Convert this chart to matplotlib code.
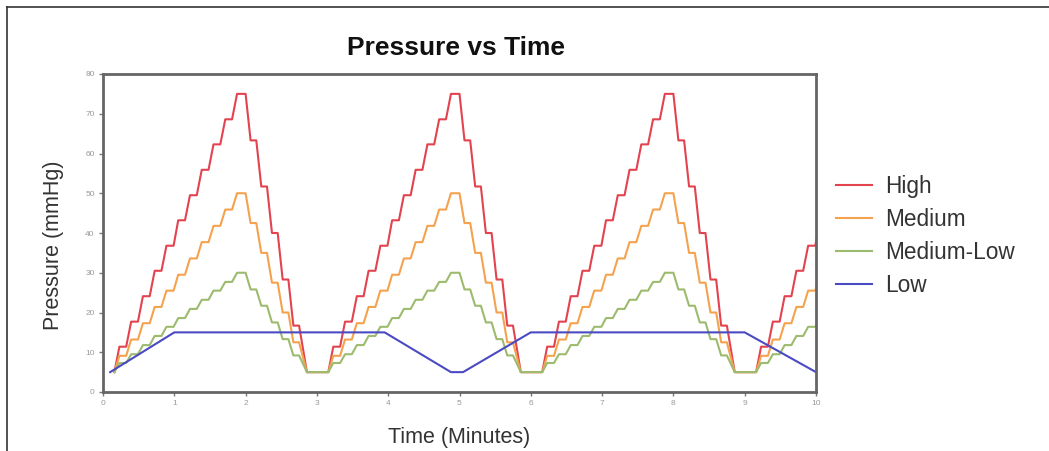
import matplotlib
matplotlib.use("Agg")
import matplotlib.pyplot as plt
import numpy as np
from matplotlib.lines import Line2D

plt.rcParams["font.family"] = ["Liberation Sans", "DejaVu Sans"]

# one pump cycle (minutes from cycle start), shared by the stepped series
step_times = [0.16, 0.23, 0.325, 0.395, 0.49, 0.56, 0.655, 0.725, 0.82, 0.89, 0.99,
              1.055, 1.15, 1.22, 1.315, 1.385, 1.48, 1.55, 1.645, 1.715, 1.81, 1.88, 2.00,
              2.07, 2.15, 2.22, 2.30, 2.37, 2.45, 2.52, 2.60, 2.67, 2.75, 2.86]
cycle_starts = [0.0, 3.0, 6.0, 9.0]

high_v = [5, 11.4, 11.4, 17.7, 17.7, 24.1, 24.1, 30.5, 30.5, 36.8, 36.8,
          43.2, 43.2, 49.5, 49.5, 55.9, 55.9, 62.3, 62.3, 68.6, 68.6, 75, 75,
          63.3, 63.3, 51.7, 51.7, 40, 40, 28.3, 28.3, 16.7, 16.7, 5]
medium_v = [5, 9.1, 9.1, 13.2, 13.2, 17.3, 17.3, 21.4, 21.4, 25.5, 25.5,
            29.5, 29.5, 33.6, 33.6, 37.7, 37.7, 41.8, 41.8, 45.9, 45.9, 50, 50,
            42.5, 42.5, 35, 35, 27.5, 27.5, 20, 20, 12.5, 12.5, 5]
medlow_v = [5, 7.3, 7.3, 9.5, 9.5, 11.8, 11.8, 14.1, 14.1, 16.4, 16.4,
            18.6, 18.6, 20.9, 20.9, 23.2, 23.2, 25.5, 25.5, 27.7, 27.7, 30, 30,
            25.8, 25.8, 21.7, 21.7, 17.5, 17.5, 13.3, 13.3, 9.2, 9.2, 5]

low_t = [0.1, 1.0, 3.95, 4.88, 5.05, 6.0, 9.0, 10.0]
low_v = [5, 15, 15, 5, 5, 15, 15, 5]

labels = ["High", "Medium", "Medium-Low", "Low"]
colors = ["#e2434f", "#f5a24e", "#9dbb6e", "#4a4ac2"]

x_ticks = list(range(0, 11))
y_ticks = list(range(0, 81, 10))


def repeat_cycles(values):
    t = np.concatenate([np.array(step_times) + c for c in cycle_starts])
    v = np.tile(values, len(cycle_starts))
    return t, v


W, H = 1049, 451
fig = plt.figure(figsize=(W / 100, H / 100), dpi=100)
ax = fig.add_axes([103 / W, 1 - 392 / H, (816 - 103) / W, (392 - 74) / H])

for vals, lab, col in zip([high_v, medium_v, medlow_v], labels[:3], colors[:3]):
    t, v = repeat_cycles(vals)
    ax.plot(t, v, color=col, lw=1.5, label=lab)
ax.plot(low_t, low_v, color=colors[3], lw=1.5, label=labels[3])

ax.set_xlim(0, 10)
ax.set_ylim(0, 80)
ax.set_xticks(x_ticks)
ax.set_yticks(y_ticks)
ax.tick_params(length=3, width=1, color="#777", labelsize=6, labelcolor="#999", pad=3)
for s in ax.spines.values():
    s.set_color("#666")
    s.set_linewidth(2)

ax.set_xlabel("Time (Minutes)", fontsize=15.5, color="#333")
ax.set_ylabel("Pressure (mmHg)", fontsize=15.5, color="#333")
ax.xaxis.set_label_coords(0.5, -(437 - 392) / (392 - 74), transform=ax.transAxes)
ax.yaxis.set_label_coords(-(103 - 53) / (816 - 103), (392 - 245) / (392 - 74))
ax.xaxis.label.set_va("center")
ax.yaxis.label.set_va("center")
fig.text(456 / W, 1 - 48 / H, "Pressure vs Time", fontsize=19, fontweight="bold",
         color="#111", ha="center", va="center")

fig.legend(loc="upper left", bbox_to_anchor=(836 / W, 1 - 175 / H), frameon=False,
           fontsize=16.3, handlelength=1.6, handletextpad=0.55, labelspacing=0.44,
           borderpad=0, borderaxespad=0, labelcolor="#333")

# page frame lines (top and left)
fig.add_artist(Line2D([7 / W, 1], [1 - 7 / H, 1 - 7 / H], color="#333", lw=1.2))
fig.add_artist(Line2D([7 / W, 7 / W], [0, 1 - 7 / H], color="#333", lw=1.2))

fig.savefig("out.png", dpi=100)
